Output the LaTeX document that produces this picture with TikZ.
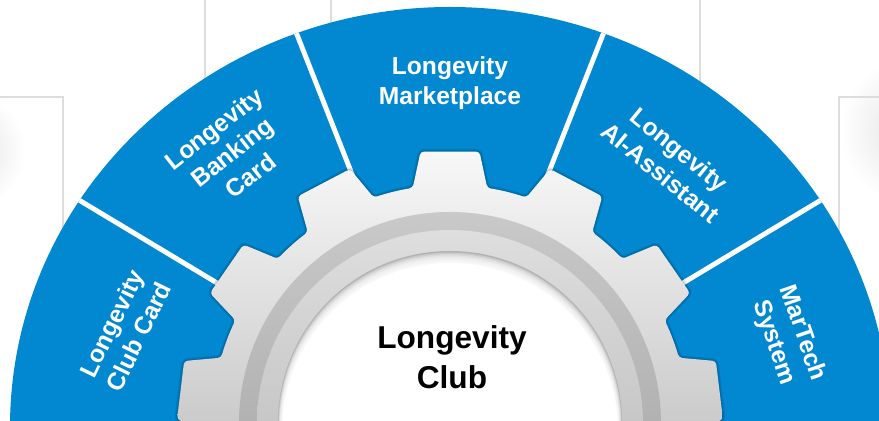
\documentclass[tikz,border=0pt]{standalone}
\usepackage{fontspec}
\setmainfont{Liberation Sans}
\definecolor{ringblue}{HTML}{0288D1}
\definecolor{cardedge}{HTML}{DDDDDD}
\definecolor{geartop}{HTML}{F8F8F8}
\definecolor{gearbottom}{HTML}{9E9E9E}
\definecolor{bandtop}{HTML}{C9C9C9}
\definecolor{bandbottom}{HTML}{9A9A9A}
\definecolor{innertop}{HTML}{DEDEDE}
\definecolor{innerbottom}{HTML}{B0B0B0}

\tikzset{
  gear outline/.style={insert path={(81:238)
    \foreach \k in {0,...,12}{
      -- ({90+27.692*\k-6.2}:273) -- ({90+27.692*\k+6.2}:273)
      -- ({90+27.692*\k+9}:238)
      arc[start angle={90+27.692*\k+9}, delta angle=9.692, radius=238]}
    -- cycle}},
  seglabel/.style={text=white, align=center, font=\fontsize{14}{17}\selectfont\bfseries},
  hublabel/.style={text=black, align=center, font=\fontsize{18}{23}\selectfont\bfseries},
  cardline/.style={draw=cardedge, line width=1.1pt}
}

\begin{document}
\begin{tikzpicture}[x=0.02cm, y=0.02cm]

        \useasboundingbox (0,0) rectangle (879,421);
        \clip (0,0) rectangle (879,421);
        \fill[white] (0,0) rectangle (879,421);

        % cards behind the wheel
        \shade[inner color=black!12, outer color=white] (-35,271) circle (60);
        \shade[inner color=black!12, outer color=white] (915,290) circle (75);
        \path[cardline] (0,324) -- (63,324) -- (63,180);
        \path[cardline] (879,324) -- (839,324) -- (839,180);
        \path[cardline] (205,421) -- (205,300);
        \path[cardline] (331,421) -- (331,380);
        \path[cardline] (700,421) -- (700,300);

        % blue ring and separators
        \fill[ringblue] (450,-6) ellipse [x radius=440, y radius=420];
        \begin{scope}
          \clip (450,-6) ellipse [x radius=440, y radius=420];
          \foreach \a in {31,68.5,111.5,149}
            \draw[white, line width=2.8pt] (450,-2) -- ++(\a:480);
        \end{scope}

        % gear
        \begin{scope}[shift={(450,-2)}]
          \draw[black, opacity=0.10, line width=3pt, line join=round, rounded corners=2pt, gear outline];
          \draw[black, opacity=0.12, line width=1.4pt, line join=round, rounded corners=2pt, gear outline];
          \shade[top color=geartop, bottom color=gearbottom, rounded corners=2pt, gear outline];
          \shade[top color=bandtop, bottom color=bandbottom] (0,0) circle (211);
          \shade[top color=innertop, bottom color=innerbottom] (0,0) circle (193);
          \fill[black!30] (0,0) circle (172);
          \foreach \i in {1,...,8}
            \fill[white, opacity=0.3] (0,-\i) circle ({172-0.5*\i});
          \fill[white] (0,-8) circle (168);
        \end{scope}

        \begin{scope}[every node/.style={seglabel}]
          \node[rotate=64]  (clubcard)  at (125,91)  {Longevity\\Club Card};
          \node[rotate=38]  (banking)   at (232,269) {Longevity\\Banking\\Card};
          \node             (market)    at (450,338) {Longevity\\Marketplace};
          \node[rotate=-39] (assistant) at (670,260) {Longevity\\AI-Assistant};
          \node[rotate=-71] (martech)   at (788,83)  {MarTech\\System};
        \end{scope}

        \node[hublabel] (club) at (452,64) {Longevity\\Club};

      \end{tikzpicture}
\end{document}
